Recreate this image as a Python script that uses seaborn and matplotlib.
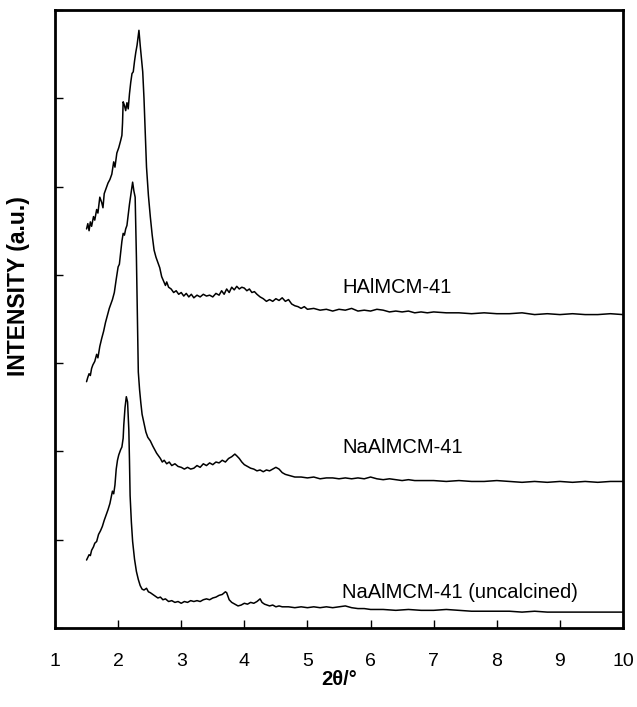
import matplotlib
matplotlib.use("Agg")
import matplotlib.pyplot as plt
import seaborn as sns
import pandas as pd

# ---- data ----
h_x = [1.50,1.52,1.54,1.56,1.58,1.61,1.63,1.66,1.68,1.71,1.74,1.76,1.78,1.81,1.84,1.87,1.90,1.93,1.95,1.98,
       2.01,2.04,2.06,2.07,2.08,2.10,2.12,2.14,2.16,2.18,2.20,2.22,2.24,2.26,2.28,2.30,2.32,2.33,2.35,2.37,
       2.39,2.41,2.43,2.45,2.48,2.51,2.54,2.57,2.60,2.63,2.66,2.69,2.72,2.75,2.77,2.80,2.84,2.88,2.92,2.96,
       3.00,3.04,3.08,3.12,3.16,3.20,3.25,3.30,3.35,3.40,3.45,3.50,3.55,3.60,3.64,3.68,3.72,3.76,3.80,3.84,
       3.88,3.92,3.96,4.00,4.04,4.08,4.12,4.16,4.20,4.25,4.30,4.35,4.40,4.45,4.50,4.55,4.60,4.65,4.70,4.75,
       4.80,4.85,4.90,4.95,5.00,5.10,5.20,5.30,5.40,5.50,5.60,5.70,5.80,5.90,6.00,6.10,6.20,6.30,6.40,6.50,
       6.60,6.70,6.80,6.90,7.00,7.20,7.40,7.60,7.80,8.00,8.20,8.40,8.60,8.80,9.00,9.20,9.40,9.60,9.80,10.0]
h_y = [4.52,4.58,4.50,4.60,4.55,4.66,4.62,4.74,4.70,4.88,4.82,4.76,4.92,4.98,5.04,5.08,5.14,5.28,5.22,5.38,
       5.44,5.52,5.58,5.72,5.96,5.92,5.86,5.95,5.88,6.05,6.18,6.28,6.30,6.42,6.52,6.60,6.72,6.77,6.60,6.45,
       6.30,6.00,5.60,5.22,4.90,4.66,4.45,4.28,4.20,4.14,4.08,3.98,3.93,3.88,3.92,3.86,3.84,3.80,3.82,3.78,
       3.80,3.76,3.79,3.75,3.78,3.74,3.77,3.75,3.78,3.76,3.77,3.75,3.79,3.77,3.82,3.78,3.84,3.80,3.86,3.83,
       3.87,3.84,3.86,3.85,3.82,3.84,3.80,3.81,3.78,3.75,3.73,3.70,3.72,3.70,3.73,3.71,3.74,3.70,3.72,3.67,
       3.65,3.64,3.62,3.64,3.61,3.62,3.60,3.61,3.59,3.61,3.60,3.62,3.59,3.60,3.59,3.61,3.60,3.58,3.59,3.58,
       3.59,3.57,3.58,3.57,3.58,3.57,3.57,3.56,3.57,3.56,3.56,3.57,3.55,3.56,3.55,3.56,3.55,3.55,3.56,3.55]

n_x = [1.50,1.52,1.54,1.56,1.58,1.60,1.63,1.66,1.68,1.71,1.74,1.77,1.80,1.83,1.86,1.89,1.91,1.94,1.97,2.00,
       2.02,2.04,2.06,2.08,2.10,2.12,2.14,2.16,2.18,2.20,2.22,2.23,2.25,2.27,2.29,2.31,2.32,2.34,2.36,2.38,
       2.41,2.44,2.47,2.51,2.55,2.58,2.61,2.64,2.67,2.70,2.73,2.77,2.81,2.85,2.90,2.95,3.00,3.05,3.10,3.15,
       3.20,3.25,3.30,3.35,3.40,3.45,3.50,3.55,3.60,3.65,3.70,3.75,3.80,3.85,3.88,3.92,3.96,4.00,4.05,4.10,
       4.15,4.20,4.25,4.30,4.35,4.40,4.45,4.50,4.55,4.60,4.65,4.70,4.75,4.80,4.90,5.00,5.10,5.20,5.30,5.40,
       5.50,5.60,5.70,5.80,5.90,6.00,6.10,6.20,6.30,6.40,6.50,6.60,6.70,6.80,7.00,7.20,7.40,7.60,7.80,8.00,
       8.20,8.40,8.60,8.80,9.00,9.20,9.40,9.60,9.80,10.0]
n_y = [2.79,2.84,2.88,2.86,2.94,2.98,3.02,3.10,3.06,3.19,3.28,3.36,3.46,3.54,3.62,3.68,3.72,3.80,3.95,4.09,
       4.12,4.25,4.38,4.47,4.45,4.52,4.56,4.68,4.80,4.90,5.00,5.05,4.95,4.88,4.20,3.30,2.90,2.70,2.55,2.42,
       2.32,2.22,2.16,2.12,2.06,2.02,1.98,1.95,1.92,1.88,1.90,1.86,1.88,1.84,1.86,1.83,1.82,1.80,1.82,1.80,
       1.81,1.84,1.82,1.86,1.84,1.87,1.85,1.88,1.87,1.90,1.88,1.92,1.94,1.97,1.95,1.92,1.88,1.85,1.83,1.81,
       1.80,1.78,1.79,1.77,1.79,1.78,1.80,1.82,1.80,1.76,1.74,1.73,1.72,1.71,1.71,1.70,1.71,1.69,1.70,1.70,
       1.69,1.70,1.69,1.70,1.69,1.71,1.69,1.68,1.69,1.68,1.67,1.68,1.67,1.67,1.67,1.66,1.67,1.66,1.66,1.67,
       1.66,1.65,1.66,1.65,1.66,1.65,1.66,1.65,1.66,1.66]

u_x = [1.50,1.52,1.54,1.56,1.58,1.61,1.63,1.66,1.69,1.72,1.75,1.78,1.81,1.84,1.87,1.89,1.91,1.93,1.95,1.97,
       1.99,2.01,2.04,2.06,2.08,2.09,2.11,2.13,2.15,2.16,2.17,2.18,2.19,2.21,2.23,2.26,2.29,2.32,2.35,2.38,
       2.41,2.45,2.48,2.51,2.55,2.59,2.63,2.67,2.71,2.75,2.80,2.85,2.90,2.95,3.00,3.05,3.10,3.15,3.20,3.25,
       3.30,3.35,3.40,3.45,3.50,3.55,3.60,3.65,3.70,3.72,3.76,3.80,3.85,3.90,3.95,4.00,4.05,4.10,4.15,4.20,
       4.25,4.28,4.32,4.36,4.40,4.45,4.50,4.55,4.60,4.70,4.80,4.90,5.00,5.10,5.20,5.30,5.40,5.50,5.60,5.70,
       5.80,5.90,6.00,6.20,6.40,6.60,6.80,7.00,7.20,7.40,7.60,7.80,8.00,8.20,8.40,8.60,8.80,9.00,9.20,9.40,
       9.60,9.80,10.0]
u_y = [0.77,0.80,0.83,0.82,0.88,0.92,0.96,0.98,1.06,1.10,1.15,1.22,1.28,1.34,1.41,1.48,1.55,1.52,1.62,1.80,
       1.90,1.96,2.02,2.05,2.15,2.30,2.50,2.62,2.56,2.40,2.24,1.90,1.50,1.20,0.98,0.78,0.64,0.55,0.48,0.44,
       0.43,0.45,0.41,0.40,0.38,0.36,0.34,0.35,0.32,0.33,0.30,0.31,0.29,0.30,0.28,0.30,0.29,0.31,0.30,0.31,
       0.30,0.32,0.33,0.32,0.34,0.35,0.37,0.38,0.41,0.40,0.32,0.29,0.27,0.25,0.26,0.28,0.27,0.29,0.28,0.30,
       0.33,0.29,0.27,0.26,0.25,0.26,0.24,0.25,0.24,0.24,0.23,0.24,0.23,0.24,0.23,0.24,0.23,0.24,0.25,0.23,
       0.22,0.22,0.21,0.21,0.20,0.21,0.20,0.20,0.21,0.20,0.19,0.19,0.19,0.19,0.18,0.19,0.18,0.18,0.18,0.18,
       0.18,0.18,0.18]

series_names = ["HAlMCM-41", "NaAlMCM-41", "NaAlMCM-41 (uncalcined)"]
label_pos_x = [5.55, 5.55, 5.55]
label_pos_y = [3.86, 2.04, 0.40]
x_ticks = [1, 2, 3, 4, 5, 6, 7, 8, 9, 10]
y_ticks = [0, 1, 2, 3, 4, 5, 6, 7]

sns.set_style("ticks")
plt.rcParams["font.family"] = ["Liberation Sans", "DejaVu Sans"]
plt.rcParams["text.color"] = "black"
plt.rcParams["axes.labelcolor"] = "black"
plt.rcParams["xtick.color"] = "black"
plt.rcParams["ytick.color"] = "black"
plt.rcParams["axes.edgecolor"] = "black"

frames = []
for name, xs, ys in zip(series_names, [h_x, n_x, u_x], [h_y, n_y, u_y]):
    frames.append(pd.DataFrame({"theta": xs, "intensity": ys, "sample": name}))
df = pd.concat(frames, ignore_index=True)

fig = plt.figure(figsize=(6.37, 7.07), dpi=100)
ax = fig.add_axes([55/637, 79/707, 568/637, 618/707])

for name in series_names:
    sns.lineplot(data=df[df["sample"] == name], x="theta", y="intensity",
                 estimator=None, sort=False, color="black", linewidth=1.1, ax=ax)

for name, lx, ly in zip(series_names, label_pos_x, label_pos_y):
    ax.text(lx, ly, name, fontsize=14.5, va="center", ha="left", color="black")

ax.set_xlim(1, 10)
ax.set_ylim(0, 7)
ax.set_xticks(x_ticks)
ax.set_xticklabels([str(t) for t in x_ticks])
ax.set_yticks(y_ticks)
ax.set_yticklabels([])
ax.tick_params(axis="both", direction="in", length=6, width=1, labelsize=14, pad=18)
for s in ax.spines.values():
    s.set_linewidth(2)
    s.set_visible(True)
    s.set_color("black")

ax.set_xlabel("2θ/°", fontsize=14.5, fontweight="bold")
ax.xaxis.set_label_coords(0.5, -0.068)
ax.set_ylabel("INTENSITY (a.u.)", fontsize=16.5, fontweight="bold")
ax.yaxis.set_label_coords(-0.044, 0.553)

fig.savefig("out.png", dpi=100)
